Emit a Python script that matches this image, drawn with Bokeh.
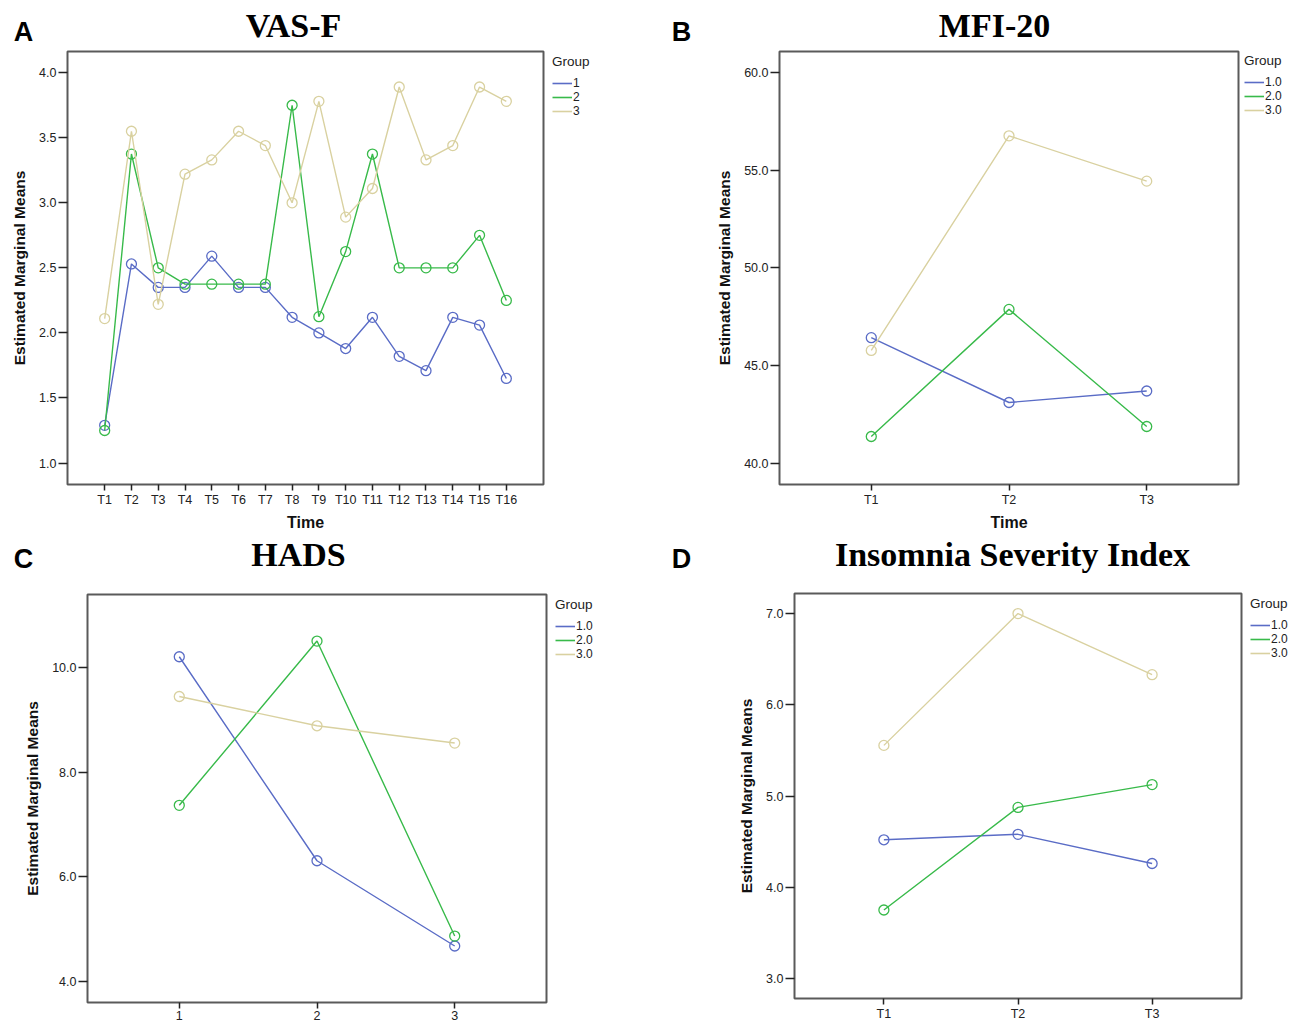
from bokeh.plotting import figure
from bokeh.layouts import column, row
from bokeh.models import (FactorRange, Range1d, FixedTicker, PrintfTickFormatter,
                          Legend, LegendItem)
from bokeh.core.properties import value
from bokeh.embed import file_html
from bokeh.resources import INLINE

# ---------------- data ----------------
group_names_A = ["1", "2", "3"]
group_names = ["1.0", "2.0", "3.0"]

vasf_time = ["T1", "T2", "T3", "T4", "T5", "T6", "T7", "T8",
             "T9", "T10", "T11", "T12", "T13", "T14", "T15", "T16"]
vasf_g1 = [1.29, 2.53, 2.35, 2.35, 2.59, 2.35, 2.35, 2.12,
           2.00, 1.88, 2.12, 1.82, 1.71, 2.12, 2.06, 1.65]
vasf_g2 = [1.25, 3.375, 2.50, 2.375, 2.375, 2.375, 2.375, 3.75,
           2.125, 2.625, 3.375, 2.50, 2.50, 2.50, 2.75, 2.25]
vasf_g3 = [2.11, 3.55, 2.22, 3.22, 3.33, 3.55, 3.44, 3.00,
           3.78, 2.89, 3.11, 3.89, 3.33, 3.44, 3.89, 3.78]
vasf_yticks = [1.0, 1.5, 2.0, 2.5, 3.0, 3.5, 4.0]

mfi_time = ["T1", "T2", "T3"]
mfi_g1 = [46.42, 43.10, 43.69]
mfi_g2 = [41.36, 47.87, 41.87]
mfi_g3 = [45.77, 56.76, 54.44]
mfi_yticks = [40.0, 45.0, 50.0, 55.0, 60.0]

hads_time = ["1", "2", "3"]
hads_g1 = [10.21, 6.31, 4.68]
hads_g2 = [7.37, 10.51, 4.87]
hads_g3 = [9.45, 8.89, 8.56]
hads_yticks = [4.0, 6.0, 8.0, 10.0]

isi_time = ["T1", "T2", "T3"]
isi_g1 = [4.52, 4.58, 4.26]
isi_g2 = [3.75, 4.875, 5.125]
isi_g3 = [5.555, 7.00, 6.33]
isi_yticks = [3.0, 4.0, 5.0, 6.0, 7.0]

panel_letters = ["A", "B", "C", "D"]
panel_titles = ["VAS-F", "MFI-20", "HADS", "Insomnia Severity Index"]

colors = ["#5A6CC6", "#38BA4A", "#D9D1A0"]

SANS = "Liberation Sans"
SERIF = "Liberation Serif"


def header(width, height, letter, letter_x, letter_y, title, title_x, title_y):
    """Strip above a panel holding the panel letter and the title."""
    h = figure(width=width, height=height, output_backend="svg",
               toolbar_location=None, title=None,
               x_range=Range1d(0, width), y_range=Range1d(height, 0),
               min_border=0)
    h.axis.visible = False
    h.grid.visible = False
    h.outline_line_color = None
    h.text(x=[letter_x], y=[letter_y], text=[letter],
           text_font=value(SANS), text_font_size="27px", text_font_style="bold",
           text_align="center", text_baseline="middle", text_color="#000000")
    h.text(x=[title_x], y=[title_y], text=[title],
           text_font=value(SERIF), text_font_size="34px", text_font_style="bold",
           text_align="center", text_baseline="middle", text_color="#000000")
    return h


def make_panel(cats, series, yticks, yrange, x_label,
               width, height, bl, br, bt, bb):
    p = figure(width=width, height=height, output_backend="svg",
               toolbar_location=None, title=None,
               x_range=FactorRange(*cats, range_padding=0.111,
                                   range_padding_units="percent"),
               y_range=Range1d(*yrange),
               min_border_left=bl, min_border_right=br,
               min_border_top=bt, min_border_bottom=bb)
    p.grid.visible = False
    p.outline_line_color = "#5A5A5A"
    p.outline_line_width = 2

    for vals, col in zip(series, colors):
        p.line(cats, vals, line_color=col, line_width=1.4)
        p.scatter(cats, vals, marker="circle", size=10, fill_color=None,
                  line_color=col, line_width=1.3)

    for ax in (p.xaxis[0], p.yaxis[0]):
        ax.axis_line_color = None
        ax.major_tick_in = 0
        ax.minor_tick_line_color = None
        ax.major_tick_line_color = "#222222"
        ax.major_tick_line_width = 1.5
        ax.major_label_text_font = SANS
        ax.major_label_text_font_size = "12.5px"
        ax.major_label_text_color = "#222222"
        ax.axis_label_text_font = SANS
        ax.axis_label_text_font_style = "bold"
        ax.axis_label_text_font_size = "15.5px"
        ax.axis_label_text_color = "#111111"
    p.yaxis[0].ticker = FixedTicker(ticks=yticks)
    p.yaxis[0].formatter = PrintfTickFormatter(format="%.1f")
    p.yaxis[0].major_tick_out = 9
    p.yaxis[0].major_label_standoff = 2
    p.yaxis[0].axis_label = "Estimated Marginal Means"
    p.yaxis[0].axis_label_standoff = 8
    p.xaxis[0].major_tick_out = 6
    p.xaxis[0].major_label_standoff = 2
    if x_label:
        p.xaxis[0].axis_label = x_label
        p.xaxis[0].axis_label_standoff = 4
        p.xaxis[0].axis_label_text_font_size = "16px"
    return p


def legend_strip(width, height, top, names, margin):
    """Narrow strip right of a panel that carries the group legend."""
    g = figure(width=width, height=height, output_backend="svg",
               toolbar_location=None, title=None,
               x_range=Range1d(0, 1), y_range=Range1d(0, 1),
               min_border_left=0, min_border_right=0,
               min_border_top=top, min_border_bottom=0)
    g.axis.visible = False
    g.grid.visible = False
    g.outline_line_color = None
    # legend keys only: the key lines lie outside the strip's visible range
    rs = [g.line(x=[5, 6], y=[5, 6], line_color=c, line_width=1.6) for c in colors]
    items = [LegendItem(label=n, renderers=[r]) for n, r in zip(names, rs)]
    leg = Legend(items=items, title="Group", location="top_left",
                 margin=margin, padding=0, spacing=0,
                 border_line_color=None, background_fill_alpha=0,
                 glyph_width=20, glyph_height=14, label_height=14,
                 label_standoff=1, title_standoff=7,
                 title_text_font=SANS, title_text_font_size="13.5px",
                 title_text_font_style="normal", title_text_color="#222222",
                 label_text_font=SANS, label_text_font_size="12px",
                 label_text_color="#222222")
    g.add_layout(leg, "center")
    return g


# ---- row 1 (height 534) ----
hA = header(650, 48, panel_letters[0], 23, 31, panel_titles[0], 293, 25)
hB = header(645, 48, panel_letters[1], 31, 31, panel_titles[1], 344, 25)
pA = make_panel(vasf_time, [vasf_g1, vasf_g2, vasf_g3],
                vasf_yticks, (0.835, 4.163), "Time",
                549, 486, 67, 6, 0, 50)
lA = legend_strip(101, 486, 3, group_names_A, 3)
pB = make_panel(mfi_time, [mfi_g1, mfi_g2, mfi_g3],
                mfi_yticks, (38.9, 61.08), "Time",
                592, 486, 129, 4, 0, 50)
lB = legend_strip(53, 486, 3, group_names, 2)

# ---- row 2 ----
hC = header(650, 54, panel_letters[2], 23, 24, panel_titles[2], 298, 20)
hD = header(645, 54, panel_letters[3], 31, 24, panel_titles[3], 362, 20)
pC = make_panel(hads_time, [hads_g1, hads_g2, hads_g3],
                hads_yticks, (3.6, 11.4), None,
                552, 435, 87, 6, 2, 21)
lC = legend_strip(98, 435, 6, group_names, 3)
pD = make_panel(isi_time, [isi_g1, isi_g2, isi_g3],
                isi_yticks, (2.78, 7.22), None,
                597, 435, 144, 6, 2, 21)
lD = legend_strip(48, 435, 5, group_names, 3)

layout = column(
    row(column(hA, row(pA, lA)), column(hB, row(pB, lB))),
    row(column(hC, row(pC, lC)), column(hD, row(pD, lD))),
)

open("out.html", "w").write(file_html(layout, INLINE))
